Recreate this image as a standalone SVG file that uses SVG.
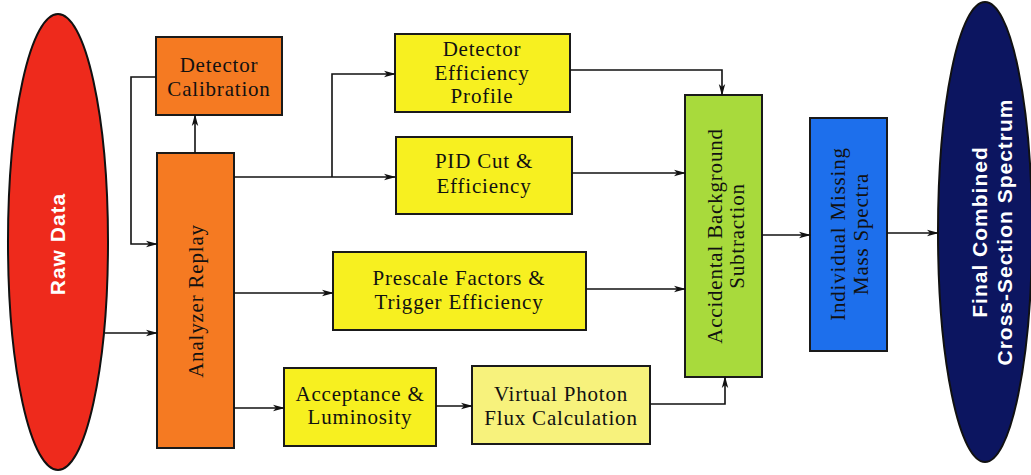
<svg xmlns="http://www.w3.org/2000/svg" width="1031" height="475" viewBox="0 0 1031 475">
<defs>
<marker id="ah" markerWidth="12" markerHeight="8" refX="11" refY="4" orient="auto" markerUnits="userSpaceOnUse">
<path d="M0,0.8 L12,4 L0,7.2 L3,4 Z" fill="#111"/>
</marker>
</defs>
<style>
.box{stroke:#1a1a1a;stroke-width:2}
.t{font-family:"Liberation Serif","Times New Roman",serif;font-size:21px;fill:#111;text-anchor:middle;letter-spacing:0.8px}
.w{font-family:"Liberation Sans",Arial,sans-serif;font-weight:bold;font-size:21px;fill:#fff;text-anchor:middle;letter-spacing:1px}
.c{fill:none;stroke:#111;stroke-width:1.6}
</style>
<rect width="1031" height="475" fill="#fff"/>
<g id="raw-data">
<ellipse cx="58" cy="242" rx="50" ry="228" fill="#ee2a1c" stroke="#111" stroke-width="2"/>
<text class="w" transform="translate(65,244) rotate(-90)">Raw Data</text>
</g>
<g id="detector-calibration">
<rect class="box" x="156" y="37" width="126" height="78" fill="#f57a22"/>
<text class="t" x="219" y="72">Detector</text>
<text class="t" x="219" y="96">Calibration</text>
</g>
<g id="analyzer-replay">
<rect class="box" x="157" y="153" width="77" height="295" fill="#f57a22"/>
<text class="t" transform="translate(203,301) rotate(-90)">Analyzer Replay</text>
</g>
<g id="detector-efficiency">
<rect class="box" x="395" y="34" width="175" height="78" fill="#f7f020"/>
<text class="t" x="482" y="56">Detector</text>
<text class="t" x="482" y="80">Efficiency</text>
<text class="t" x="482" y="103">Profile</text>
</g>
<g id="pid-cut">
<rect class="box" x="396" y="137" width="176" height="77" fill="#f7f020"/>
<text class="t" x="484" y="168">PID Cut &amp;</text>
<text class="t" x="484" y="193">Efficiency</text>
</g>
<g id="prescale">
<rect class="box" x="333" y="252" width="253" height="78" fill="#f7f020"/>
<text class="t" x="459" y="285">Prescale Factors &amp;</text>
<text class="t" x="459" y="309">Trigger Efficiency</text>
</g>
<g id="acceptance">
<rect class="box" x="284" y="368" width="152" height="78" fill="#f7f020"/>
<text class="t" x="360" y="401">Acceptance &amp;</text>
<text class="t" x="360" y="424">Luminosity</text>
</g>
<g id="virtual-photon">
<rect class="box" x="472" y="366" width="178" height="78" fill="#f7f27c"/>
<text class="t" x="561" y="401">Virtual Photon</text>
<text class="t" x="561" y="425">Flux Calculation</text>
</g>
<g id="accidental">
<rect class="box" x="685" y="95" width="77" height="282" fill="#a8da3c"/>
<text class="t" transform="translate(722,236) rotate(-90)">Accidental Background</text>
<text class="t" transform="translate(744,236) rotate(-90)">Subtraction</text>
</g>
<g id="missing-mass">
<rect class="box" x="810" y="118" width="77" height="233" fill="#1d6fec"/>
<text class="t" transform="translate(845,234) rotate(-90)">Individual Missing</text>
<text class="t" transform="translate(868,234) rotate(-90)">Mass Spectra</text>
</g>
<g id="final">
<ellipse cx="985" cy="232" rx="47" ry="230" fill="#0c1560" stroke="#111" stroke-width="2"/>
<text class="w" transform="translate(987,232) rotate(-90)">Final Combined</text>
<text class="w" transform="translate(1012,232) rotate(-90)">Cross-Section Spectrum</text>
</g>
<g id="connectors">
<path class="c" d="M105,333 H157" marker-end="url(#ah)"/>
<path class="c" d="M195,153 V115" marker-end="url(#ah)"/>
<path class="c" d="M156,77 H131 V244 H157" marker-end="url(#ah)"/>
<path class="c" d="M234,177 H395" marker-end="url(#ah)"/>
<path class="c" d="M332,177 V74 H395" marker-end="url(#ah)"/>
<path class="c" d="M234,293 H333" marker-end="url(#ah)"/>
<path class="c" d="M234,408 H284" marker-end="url(#ah)"/>
<path class="c" d="M436,406 H472" marker-end="url(#ah)"/>
<path class="c" d="M650,404 H725 V377" marker-end="url(#ah)"/>
<path class="c" d="M570,70 H722 V95" marker-end="url(#ah)"/>
<path class="c" d="M572,173 H685" marker-end="url(#ah)"/>
<path class="c" d="M586,289 H685" marker-end="url(#ah)"/>
<path class="c" d="M762,235 H810" marker-end="url(#ah)"/>
<path class="c" d="M887,233 H938" marker-end="url(#ah)"/>
</g>
</svg>
